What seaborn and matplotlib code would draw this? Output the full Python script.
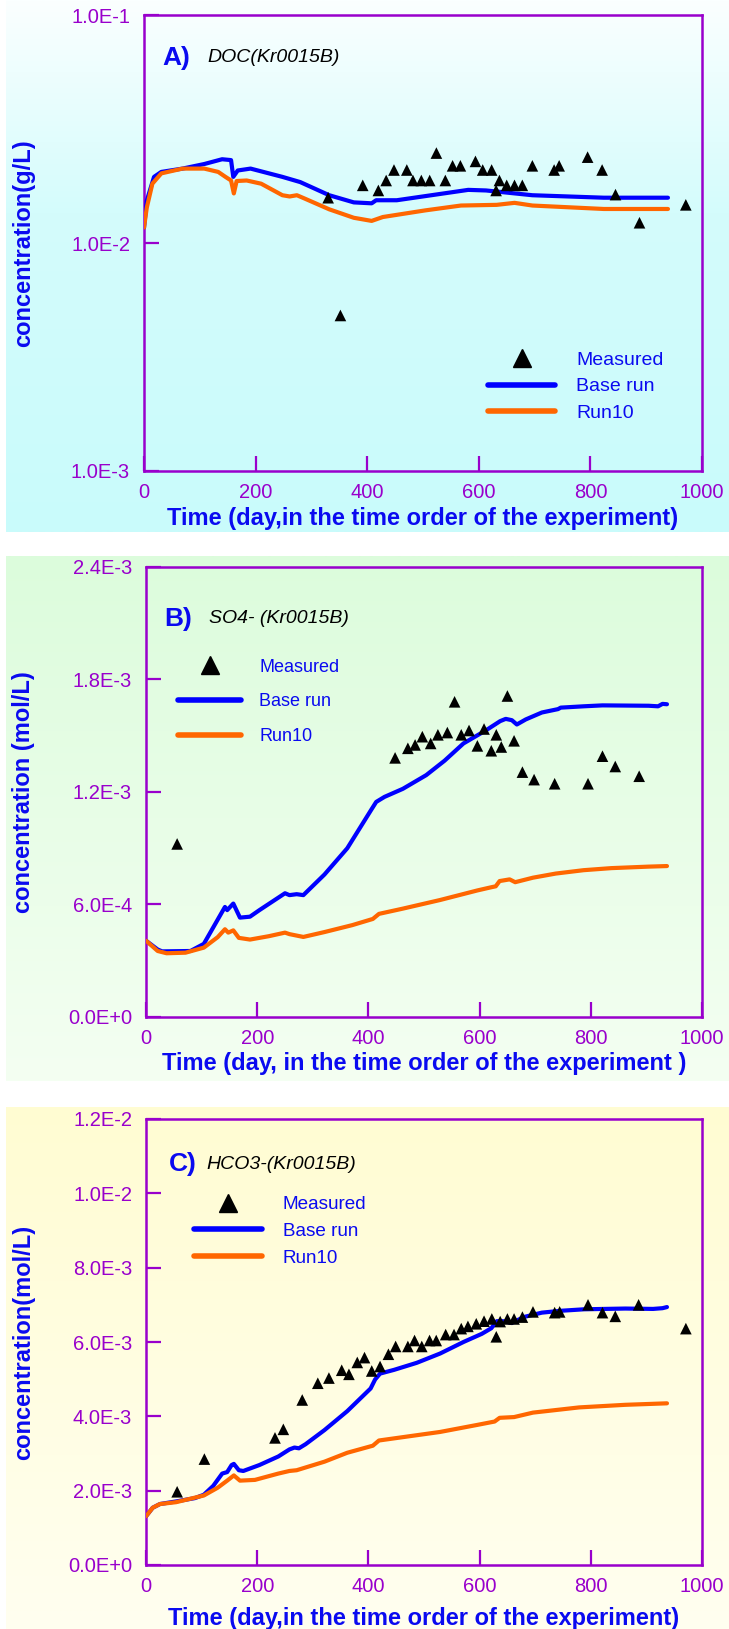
import numpy as np
import matplotlib
matplotlib.use("Agg")
import matplotlib.pyplot as plt
from matplotlib.colors import LinearSegmentedColormap
from matplotlib.lines import Line2D
import seaborn as sns

# ---------------- data ----------------
# A) DOC (g/L), log axis
doc_base_day = [0, 5, 18, 31, 69, 108, 140, 156, 160, 168, 191, 248, 280, 332, 376, 408, 416,
                453, 581, 613, 696, 824, 939]
doc_base_val = [0.01167, 0.01535, 0.0195, 0.0205, 0.0212, 0.0222, 0.0233, 0.0231, 0.0195, 0.0208,
                0.0212, 0.0195, 0.0185, 0.0162, 0.01507, 0.01493, 0.0154, 0.0154, 0.0171, 0.0170,
                0.0162, 0.0158, 0.0158]
doc_run10_day = [0, 5, 15, 31, 69, 108, 133, 146, 156, 161, 166, 184, 210, 248, 261, 274, 287, 332,
                 376, 408, 428, 504, 568, 632, 664, 696, 824, 939]
doc_run10_val = [0.01167, 0.0143, 0.0182, 0.0202, 0.0212, 0.0212, 0.0205, 0.0195, 0.0188, 0.0165,
                 0.0187, 0.0188, 0.0182, 0.0162, 0.0160, 0.0162, 0.0157, 0.01405, 0.0129, 0.0125,
                 0.0130, 0.0139, 0.0146, 0.0147, 0.0150, 0.0146, 0.0141, 0.0141]
doc_meas_day = [330, 352, 392, 420, 434, 448, 471, 482, 497, 512, 524, 540, 553, 567, 594, 607, 623,
                631, 637, 650, 664, 678, 696, 735, 744, 795, 821, 845, 888, 971]
doc_meas_val = [0.0158, 0.00481, 0.0179, 0.0170, 0.0188, 0.0209, 0.0209, 0.0188, 0.0188, 0.0188,
                0.0248, 0.0188, 0.0218, 0.0218, 0.0228, 0.0209, 0.0209, 0.0170, 0.0188, 0.0179,
                0.0179, 0.0179, 0.0218, 0.0209, 0.0218, 0.0238, 0.0209, 0.0163, 0.01227, 0.0147]

# B) SO4- (mol/L)
so4_base_day = [0, 21, 29, 80, 104, 142, 146, 157, 169, 187, 204, 250, 258, 271, 283, 321, 362,
                404, 414, 429, 462, 504, 537, 571, 612, 637, 647, 658, 667, 683, 712, 741, 746,
                787, 821, 904, 921, 929, 937]
so4_base_val = [4.07e-4, 3.6e-4, 3.5e-4, 3.52e-4, 3.9e-4, 5.87e-4, 5.7e-4, 6.05e-4, 5.3e-4,
                5.35e-4, 5.7e-4, 6.6e-4, 6.5e-4, 6.55e-4, 6.5e-4, 7.6e-4, 9.0e-4, 1.10e-3,
                1.147e-3, 1.174e-3, 1.217e-3, 1.29e-3, 1.367e-3, 1.459e-3, 1.53e-3, 1.578e-3,
                1.59e-3, 1.583e-3, 1.56e-3, 1.587e-3, 1.624e-3, 1.642e-3, 1.65e-3, 1.657e-3,
                1.662e-3, 1.66e-3, 1.657e-3, 1.67e-3, 1.668e-3]
so4_run10_day = [0, 21, 37, 71, 104, 129, 142, 148, 157, 167, 187, 221, 250, 258, 283, 321, 371,
                 408, 419, 462, 529, 596, 621, 629, 636, 654, 664, 696, 737, 787, 837, 904, 937]
so4_run10_val = [4.07e-4, 3.52e-4, 3.4e-4, 3.43e-4, 3.7e-4, 4.26e-4, 4.68e-4, 4.5e-4, 4.62e-4,
                 4.22e-4, 4.13e-4, 4.31e-4, 4.5e-4, 4.42e-4, 4.27e-4, 4.53e-4, 4.9e-4, 5.23e-4,
                 5.5e-4, 5.78e-4, 6.24e-4, 6.75e-4, 6.92e-4, 6.97e-4, 7.25e-4, 7.34e-4, 7.19e-4,
                 7.43e-4, 7.65e-4, 7.83e-4, 7.94e-4, 8.02e-4, 8.05e-4]
so4_meas_day = [56, 448, 471, 484, 497, 512, 525, 542, 555, 567, 581, 596, 608, 621, 630, 639, 650,
                662, 677, 698, 735, 795, 821, 844, 887]
so4_meas_val = [9.23e-4, 1.382e-3, 1.433e-3, 1.451e-3, 1.495e-3, 1.459e-3, 1.505e-3, 1.517e-3,
                1.681e-3, 1.505e-3, 1.528e-3, 1.446e-3, 1.536e-3, 1.42e-3, 1.505e-3, 1.44e-3,
                1.712e-3, 1.473e-3, 1.306e-3, 1.266e-3, 1.244e-3, 1.244e-3, 1.391e-3, 1.336e-3,
                1.284e-3]

# C) HCO3- (mol/L)
hco3_base_day = [0, 12, 25, 54, 88, 104, 121, 137, 146, 154, 158, 167, 175, 204, 238, 258, 267,
                 275, 287, 321, 362, 404, 412, 421, 446, 487, 529, 571, 604, 621, 631, 642, 658,
                 679, 712, 746, 788, 862, 912, 929, 937]
hco3_base_val = [1.31e-3, 1.54e-3, 1.64e-3, 1.71e-3, 1.80e-3, 1.89e-3, 2.13e-3, 2.46e-3, 2.50e-3,
                 2.69e-3, 2.72e-3, 2.55e-3, 2.53e-3, 2.69e-3, 2.92e-3, 3.11e-3, 3.16e-3, 3.14e-3,
                 3.25e-3, 3.63e-3, 4.14e-3, 4.75e-3, 4.99e-3, 5.15e-3, 5.25e-3, 5.44e-3, 5.69e-3,
                 6.00e-3, 6.22e-3, 6.37e-3, 6.56e-3, 6.56e-3, 6.51e-3, 6.67e-3, 6.79e-3, 6.84e-3,
                 6.88e-3, 6.90e-3, 6.89e-3, 6.91e-3, 6.94e-3]
hco3_run10_day = [0, 12, 25, 54, 104, 129, 146, 158, 169, 196, 238, 258, 271, 321, 362, 408, 419,
                  462, 529, 596, 627, 636, 662, 696, 779, 862, 937]
hco3_run10_val = [1.31e-3, 1.54e-3, 1.64e-3, 1.69e-3, 1.87e-3, 2.08e-3, 2.27e-3, 2.41e-3, 2.27e-3,
                  2.29e-3, 2.46e-3, 2.53e-3, 2.55e-3, 2.78e-3, 3.02e-3, 3.21e-3, 3.35e-3, 3.44e-3,
                  3.58e-3, 3.77e-3, 3.86e-3, 3.96e-3, 3.98e-3, 4.10e-3, 4.24e-3, 4.31e-3, 4.35e-3]
hco3_meas_day = [56, 105, 232, 247, 281, 309, 329, 352, 365, 380, 393, 406, 421, 436, 449, 471,
                 483, 496, 510, 522, 539, 554, 567, 579, 594, 608, 622, 630, 637, 650, 662, 677,
                 696, 735, 744, 795, 821, 844, 886, 971]
hco3_meas_val = [1.97e-3, 2.85e-3, 3.42e-3, 3.65e-3, 4.44e-3, 4.89e-3, 5.03e-3, 5.24e-3, 5.13e-3,
                 5.45e-3, 5.58e-3, 5.22e-3, 5.34e-3, 5.67e-3, 5.88e-3, 5.88e-3, 6.04e-3, 5.88e-3,
                 6.04e-3, 6.04e-3, 6.20e-3, 6.20e-3, 6.36e-3, 6.42e-3, 6.49e-3, 6.56e-3, 6.62e-3,
                 6.14e-3, 6.55e-3, 6.62e-3, 6.62e-3, 6.67e-3, 6.81e-3, 6.79e-3, 6.81e-3, 7.00e-3,
                 6.79e-3, 6.69e-3, 7.00e-3, 6.36e-3]

# tick values and labels
x_ticks = [0, 200, 400, 600, 800, 1000]
x_ticklabels = ["0", "200", "400", "600", "800", "1000"]
doc_yticks = [1e-3, 1e-2, 1e-1]
doc_yticklabels = ["1.0E-3", "1.0E-2", "1.0E-1"]
so4_yticks = [0.0, 6e-4, 1.2e-3, 1.8e-3, 2.4e-3]
so4_yticklabels = ["0.0E+0", "6.0E-4", "1.2E-3", "1.8E-3", "2.4E-3"]
hco3_yticks = [0.0, 2e-3, 4e-3, 6e-3, 8e-3, 1e-2, 1.2e-2]
hco3_yticklabels = ["0.0E+0", "2.0E-3", "4.0E-3", "6.0E-3", "8.0E-3", "1.0E-2", "1.2E-2"]

legend_labels = ["Measured", "Base run", "Run10"]

# ---------------- style ----------------
sns.set_theme(style="ticks")
plt.rcParams["font.family"] = ["Liberation Sans", "DejaVu Sans"]

PURPLE = "#9900cc"
BLUE = "#0000ff"
ORANGE = "#ff6600"
LABEL_BLUE = "#0a0af0"

W, H = 729, 1629
fig = plt.figure(figsize=(W / 100, H / 100), dpi=100)
fig.patch.set_facecolor("white")


def px_axes(left, right, top, bottom, **kw):
    return fig.add_axes([left / W, 1 - bottom / H, (right - left) / W, (bottom - top) / H], **kw)


def panel_background(top, bottom, stops):
    bg = px_axes(6, W, top, bottom, zorder=0)
    cmap = LinearSegmentedColormap.from_list("bg", stops)
    grad = np.linspace(0, 1, 256)[:, None]
    bg.imshow(grad, aspect="auto", cmap=cmap, extent=[0, 1, 0, 1], interpolation="bilinear")
    bg.set_axis_off()


panel_background(0, 532, [(0.0, "#fbffff"), (0.4, "#d4fcfc"), (1.0, "#c9fbfb")])
panel_background(556, 1081, [(0.0, "#dcfcdc"), (1.0, "#f4fff2")])
panel_background(1107, H, [(0.0, "#fffcd2"), (1.0, "#fffff0")])


def style_axes(ax, yticks, yticklabels, xlabel, ylabel, xlab_off, ylab_x):
    ax.set_facecolor("none")
    ax.set_xlim(0, 1000)
    ax.set_xticks(x_ticks)
    ax.set_xticklabels(x_ticklabels)
    ax.set_yticks(yticks)
    ax.set_yticklabels(yticklabels)
    ax.minorticks_off()
    for s in ax.spines.values():
        s.set_visible(True)
        s.set_color(PURPLE)
        s.set_linewidth(1.8)
    ax.tick_params(axis="both", direction="in", length=11, width=1.6, color=PURPLE,
                   labelcolor=PURPLE, labelsize=14.5)
    ax.tick_params(axis="x", pad=9, top=False)
    ax.tick_params(axis="y", pad=10, right=False)
    ax.set_xlabel(xlabel, color=LABEL_BLUE, fontsize=17, fontweight="bold")
    ax.set_ylabel(ylabel, color=LABEL_BLUE, fontsize=17, fontweight="bold")
    ax.xaxis.set_label_coords(0.5, xlab_off)
    ax.yaxis.set_label_coords(ylab_x, 0.5)
    ax.grid(False)


def draw_series(ax, base_d, base_v, run_d, run_v, meas_d, meas_v):
    sns.lineplot(x=base_d, y=base_v, ax=ax, color=BLUE, lw=3.0, sort=False, legend=False,
                 zorder=3)
    sns.lineplot(x=run_d, y=run_v, ax=ax, color=ORANGE, lw=3.0, sort=False, legend=False,
                 zorder=3)
    sns.scatterplot(x=meas_d, y=meas_v, ax=ax, marker="^", color="black", s=70,
                    edgecolor="none", legend=False, zorder=4, clip_on=False)


def add_legend(ax, anchor, fontsize, handlelength, textpad, spacing):
    handles = [
        Line2D([], [], marker="^", ls="none", color="black", markersize=13),
        Line2D([], [], color=BLUE, lw=4),
        Line2D([], [], color=ORANGE, lw=4),
    ]
    ax.legend(handles, legend_labels, loc="upper left", bbox_to_anchor=anchor, frameon=False,
              fontsize=fontsize, labelcolor=LABEL_BLUE, handlelength=handlelength,
              handletextpad=textpad, labelspacing=spacing, borderpad=0, borderaxespad=0)


def add_title(ax, letter, name, x_letter, x_name, y):
    ax.text(x_letter, y, letter, transform=ax.transAxes, color=LABEL_BLUE, fontsize=19,
            fontweight="bold", va="center", ha="left")
    ax.text(x_name, y, name, transform=ax.transAxes, color="black", fontsize=14,
            fontstyle="italic", va="center", ha="left")


# ---- A) DOC ----
axA = px_axes(144, 702, 15, 471, zorder=2)
draw_series(axA, doc_base_day, doc_base_val, doc_run10_day, doc_run10_val,
            doc_meas_day, doc_meas_val)
axA.set_yscale("log")
axA.set_ylim(1e-3, 1e-1)
style_axes(axA, doc_yticks, doc_yticklabels,
           "Time (day,in the time order of the experiment)", "concentration(g/L)",
           -0.079, -0.195)
add_legend(axA, (0.617, 0.263), 14, 3.45, 1.08, 0.47)
add_title(axA, "A)", "DOC(Kr0015B)", 0.033, 0.113, 0.906)

# ---- B) SO4- ----
axB = px_axes(146, 702, 567, 1017, zorder=2)
draw_series(axB, so4_base_day, so4_base_val, so4_run10_day, so4_run10_val,
            so4_meas_day, so4_meas_val)
axB.set_ylim(0, 2.4e-3)
style_axes(axB, so4_yticks, so4_yticklabels,
           "Time (day, in the time order of the experiment )", "concentration (mol/L)",
           -0.078, -0.2)
add_legend(axB, (0.058, 0.796), 13, 3.5, 1.0, 0.98)
add_title(axB, "B)", "SO4- (Kr0015B)", 0.033, 0.113, 0.885)

# ---- C) HCO3- ----
axC = px_axes(146, 702, 1119, 1565, zorder=2)
draw_series(axC, hco3_base_day, hco3_base_val, hco3_run10_day, hco3_run10_val,
            hco3_meas_day, hco3_meas_val)
axC.set_ylim(0, 1.2e-2)
style_axes(axC, hco3_yticks, hco3_yticklabels,
           "Time (day,in the time order of the experiment)", "concentration(mol/L)",
           -0.095, -0.2)
add_legend(axC, (0.086, 0.827), 13.6, 3.6, 1.1, 0.5)
add_title(axC, "C)", "HCO3-(Kr0015B)", 0.042, 0.108, 0.898)

fig.savefig("out.png", dpi=100)
